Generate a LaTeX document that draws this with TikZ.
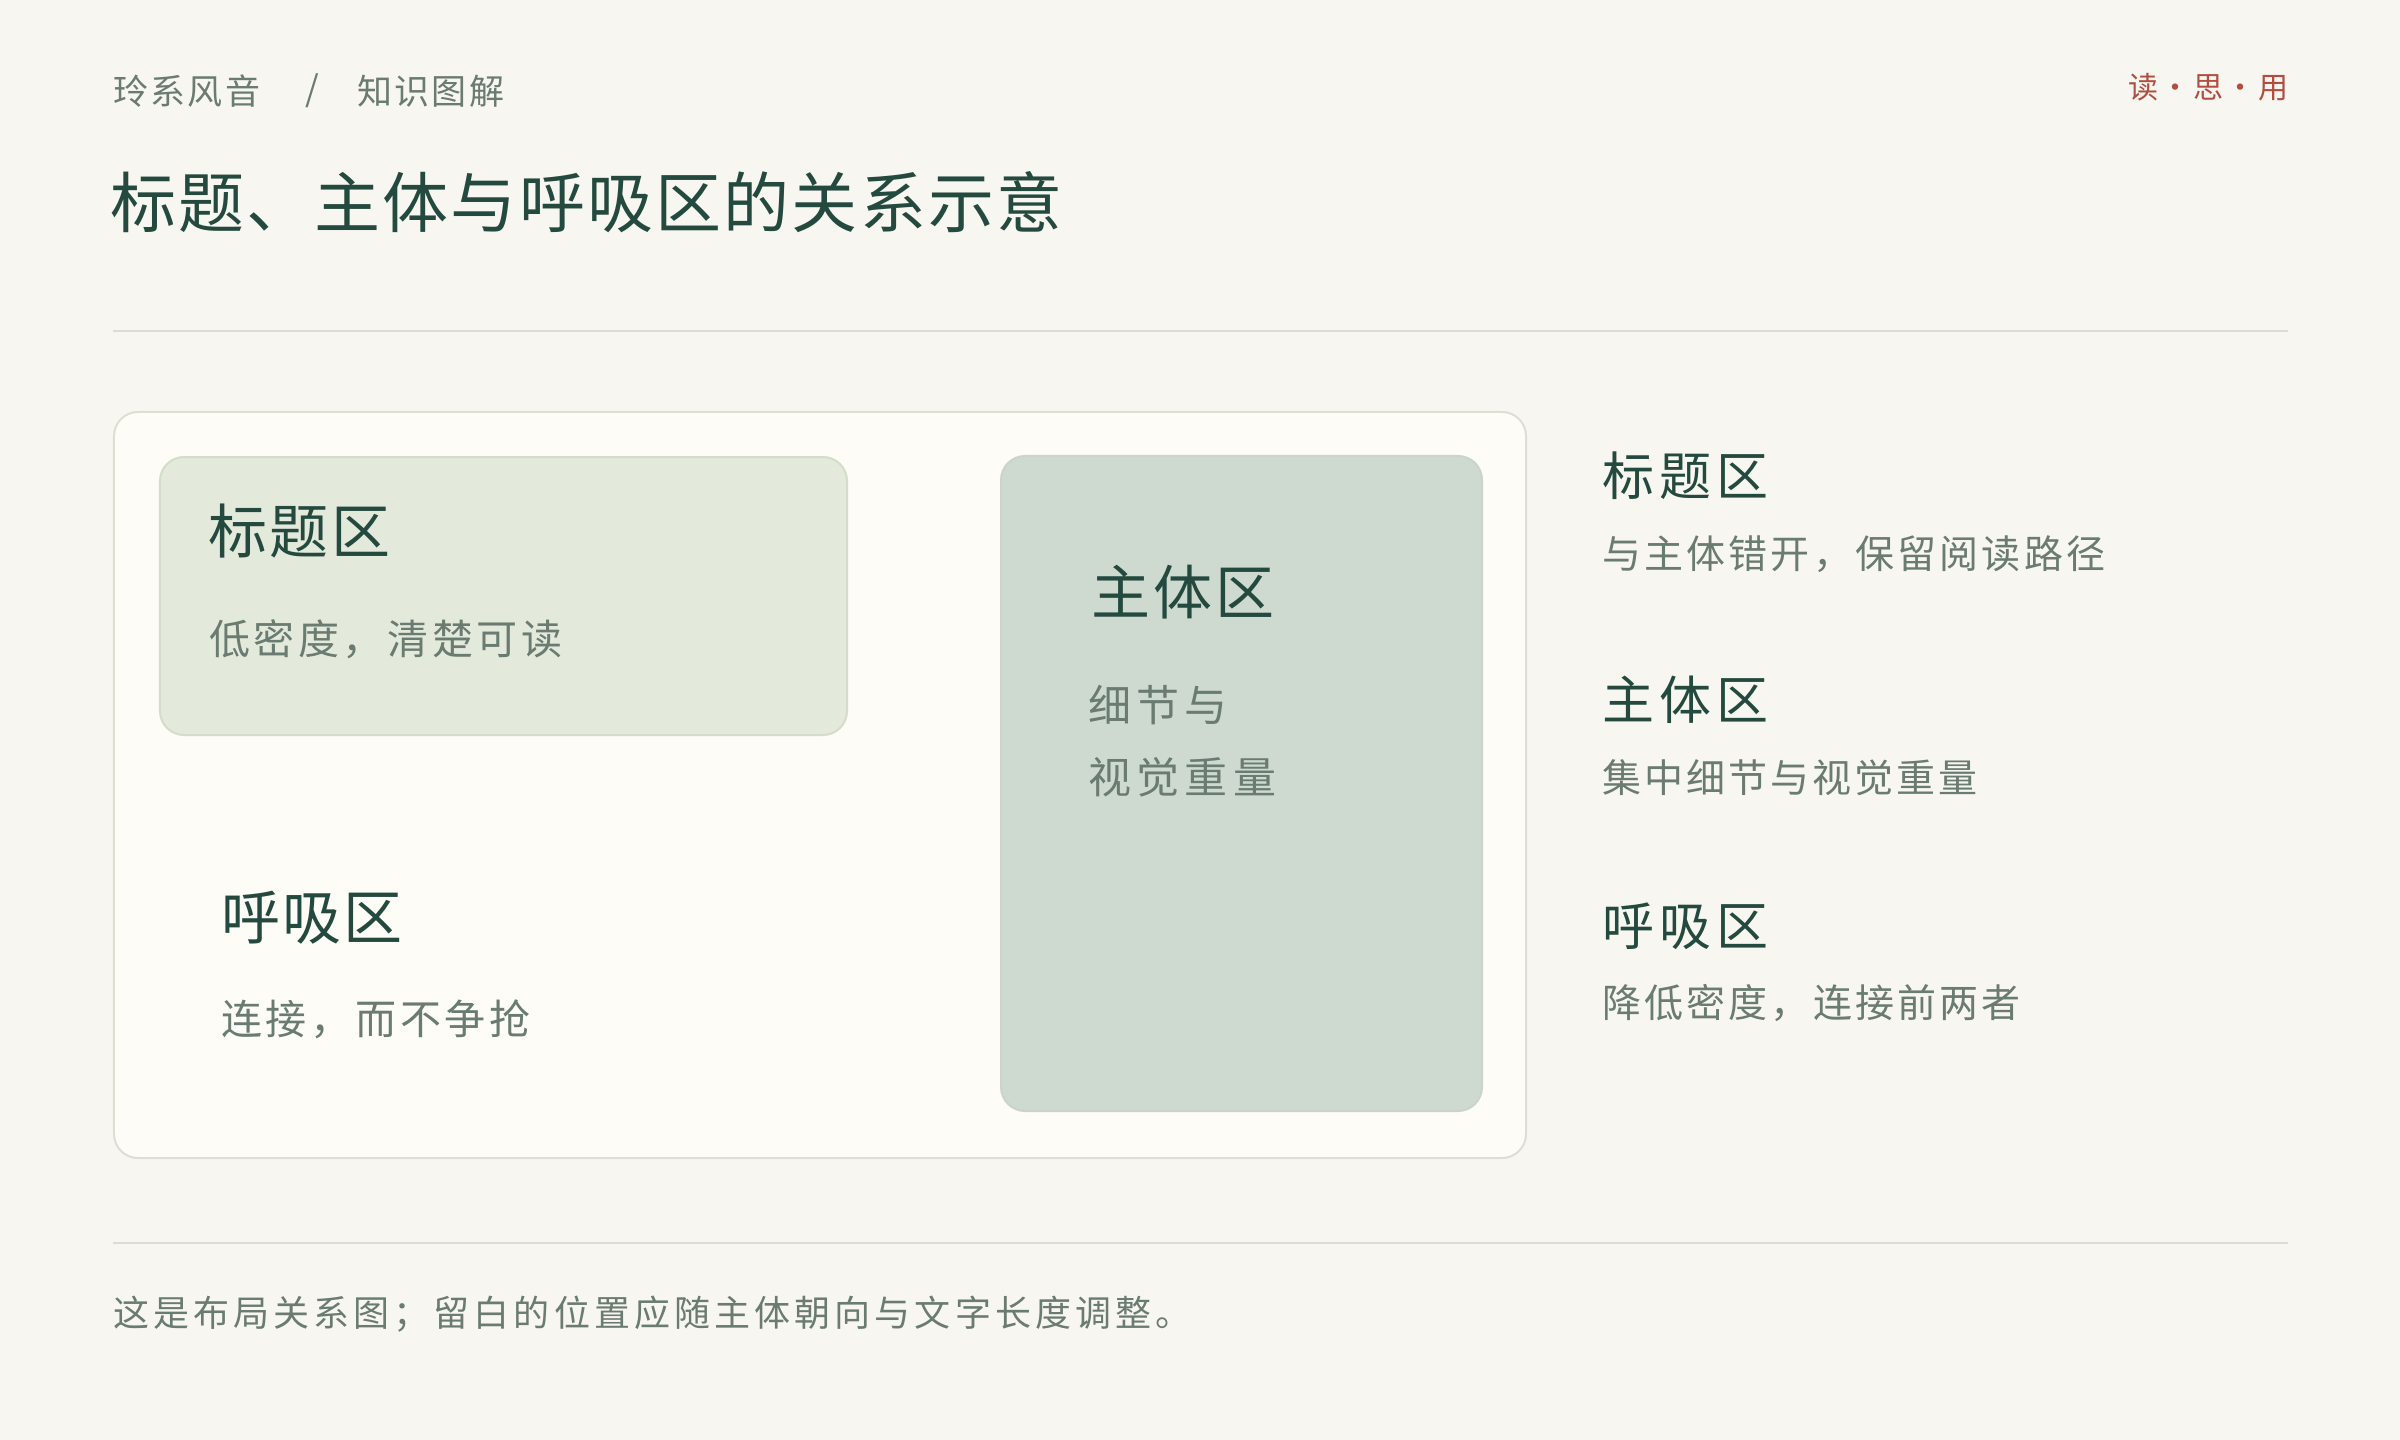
\documentclass[tikz,border=0pt]{standalone}
\usepackage{fontspec}
\setmainfont{Noto Sans CJK SC}
\definecolor{bgc}{HTML}{F8F6F0}
\definecolor{panelfill}{HTML}{FDFCF7}
\definecolor{panelline}{HTML}{DCDFD3}
\definecolor{titlefill}{HTML}{E3E9DB}
\definecolor{titleline}{HTML}{D4DCCA}
\definecolor{mainfill}{HTML}{CEDAD0}
\definecolor{mainline}{HTML}{C9D5CB}
\definecolor{darktxt}{HTML}{244A3F}
\definecolor{greytxt}{HTML}{6A7B71}
\definecolor{redtxt}{HTML}{B24E40}
\definecolor{rulec}{HTML}{DBDDD2}
\newdimen\LSamt
\def\LSend{\LSend}
\def\LSdo#1{\ifx#1\LSend\else#1\hskip\LSamt\relax\expandafter\LSdo\fi}
\newcommand\ls[2]{\LSamt=#1\relax\LSdo#2\LSend}
\tikzset{
  txt/.style={anchor=west, inner sep=0pt, outer sep=0pt},
  crumb/.style={txt, text=greytxt, font=\fontsize{35bp}{40bp}\selectfont},
  bigtitle/.style={txt, text=darktxt, font=\fontsize{66bp}{76bp}\selectfont},
  motto/.style={txt, text=redtxt, font=\fontsize{30bp}{36bp}\selectfont},
  zonehead/.style={txt, text=darktxt, font=\fontsize{59bp}{66bp}\selectfont},
  zonebody/.style={txt, text=greytxt, font=\fontsize{41bp}{48bp}\selectfont},
  sidehead/.style={txt, text=darktxt, font=\fontsize{52bp}{60bp}\selectfont},
  sidebody/.style={txt, text=greytxt, font=\fontsize{39bp}{46bp}\selectfont},
  foot/.style={txt, text=greytxt, font=\fontsize{36bp}{42bp}\selectfont},
  rule/.style={draw=rulec, line width=2bp},
  boxbase/.style={rounded corners=24bp, line width=2bp, inner sep=0pt, outer sep=0pt},
}
\begin{document}
\begin{tikzpicture}[x=1bp,y=-1bp]
\fill[bgc] (0,0) rectangle (2400,1440);
% header
\node[crumb] (crumbA) at (113,91) {\ls{2.5bp}{玲系风音}};
\node[crumb, anchor=center] (crumbSep) at (312,91) {/};
\node[crumb] (crumbB) at (357,91) {\ls{2.5bp}{知识图解}};
\node[motto] (motto) at (2128,87) {\ls{2.5bp}{读・思・用}};
\node[bigtitle] (title) at (110,202) {\ls{2.2bp}{标题、主体与呼吸区的关系示意}};
\coordinate (ruleTopL) at (113,331);
\coordinate (ruleTopR) at (2288,331);
\draw[rule] (ruleTopL) -- (ruleTopR);
% panel
\node[boxbase, draw=panelline, fill=panelfill, minimum width=1412bp, minimum height=746bp] (panel) at (820,785) {};
\node[boxbase, draw=titleline, fill=titlefill, minimum width=687bp, minimum height=278bp] (titlebox) at (503.5,596) {};
\node[boxbase, draw=mainline, fill=mainfill, minimum width=481bp, minimum height=655bp] (mainbox) at (1241.5,783.5) {};
% zone texts
\node[zonehead] (tzHead) at (208,531) {\ls{3bp}{标题区}};
\node[zonebody] (tzBody) at (209,639) {\ls{3.6bp}{低密度，清楚可读}};
\node[zonehead] (mzHead) at (1091,592) {\ls{3.5bp}{主体区}};
\node[zonebody, font=\fontsize{43bp}{72bp}\selectfont, align=left] (mzBody) at (1088,741) {\ls{5.5bp}{细节与}\\\ls{5.5bp}{视觉重量}};
\node[zonehead] (bzHead) at (221,918) {\ls{2.5bp}{呼吸区}};
\node[zonebody] (bzBody) at (221,1019) {\ls{3.8bp}{连接，而不争抢}};
% side legend
\node[sidehead] (sHead1) at (1602,476) {\ls{5bp}{标题区}};
\node[sidebody] (sBody1) at (1602,554) {\ls{3.2bp}{与主体错开，保留阅读路径}};
\node[sidehead] (sHead2) at (1602,700) {\ls{5bp}{主体区}};
\node[sidebody] (sBody2) at (1602,778) {\ls{3.1bp}{集中细节与视觉重量}};
\node[sidehead] (sHead3) at (1602,926) {\ls{5bp}{呼吸区}};
\node[sidebody] (sBody3) at (1602,1003) {\ls{3.2bp}{降低密度，连接前两者}};
% footer
\coordinate (ruleBotL) at (113,1243);
\coordinate (ruleBotR) at (2288,1243);
\draw[rule] (ruleBotL) -- (ruleBotR);
\node[foot] (footer) at (113,1314) {\ls{4.1bp}{这是布局关系图；留白的位置应随主体朝向与文字长度调整。}};
\end{tikzpicture}
\end{document}
